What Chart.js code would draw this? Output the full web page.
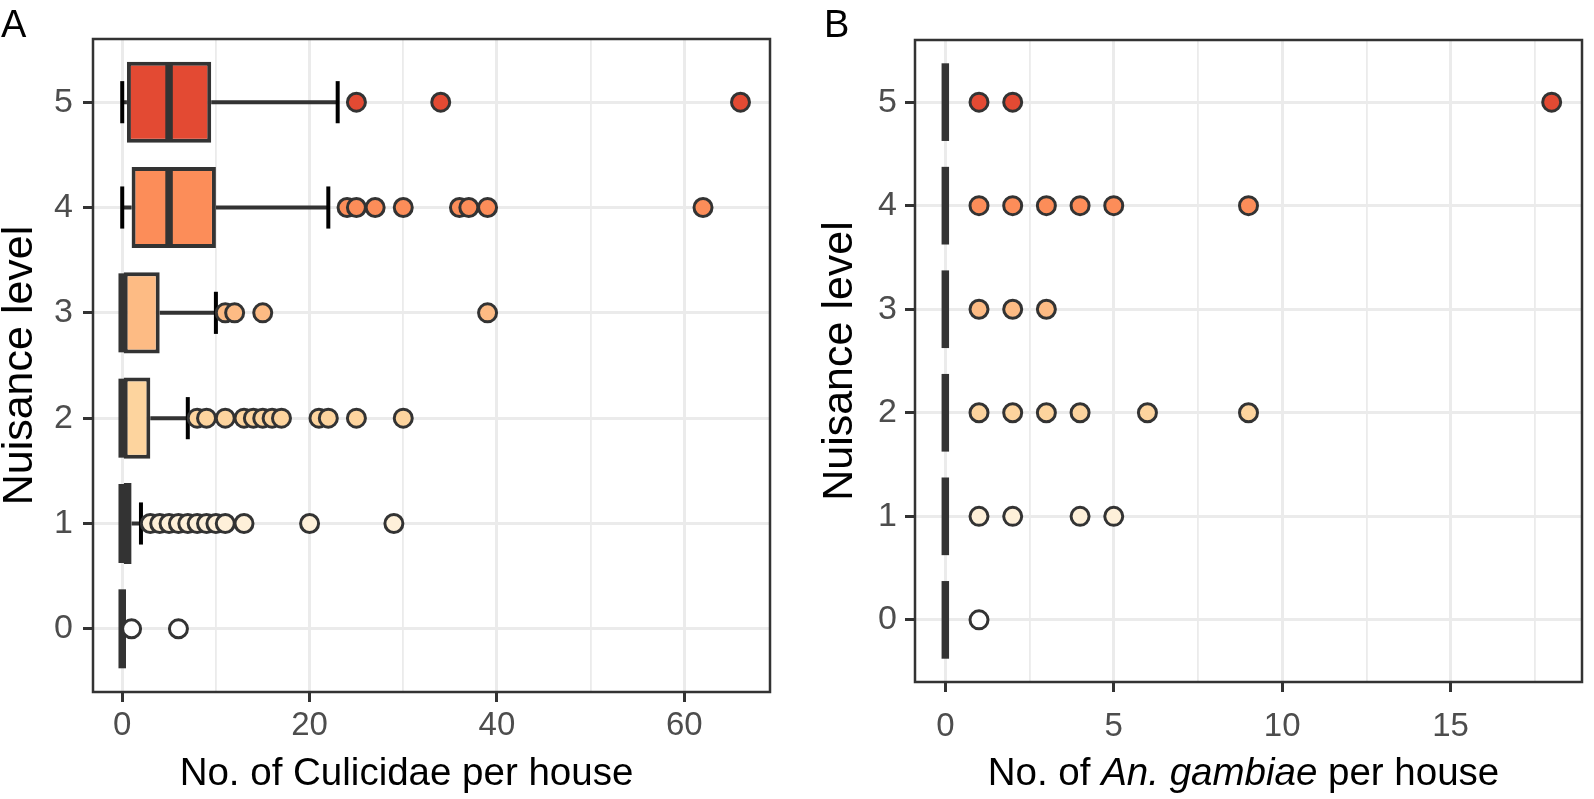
<!DOCTYPE html>
<html lang="en">
<head>
<meta charset="UTF-8">
<title>Nuisance level vs mosquitoes per house</title>
<script src="https://cdn.jsdelivr.net/npm/chart.js"></script>
<style>
    body { margin: 0; background: #ffffff; }
    .wrap { position: relative; width: 1594px; height: 799px; overflow: hidden; background: #fff; }
    canvas { position: absolute; top: 0; }
    #chartA { left: 0; }
    #chartB { left: 800px; }
</style>
</head>
<body>
<div class="wrap">
    <canvas id="chartA" width="800" height="799"></canvas>
    <canvas id="chartB" width="794" height="799"></canvas>
</div>
<script>
const levels = [0, 1, 2, 3, 4, 5];
const levelColors = ['#FFFFFF', '#FEF0D9', '#FDD49E', '#FDBB84', '#FC8D59', '#E34A33'];

// Panel A - Culicidae per house (box stats)
const culLowerWhisker = [0, 0, 0, 0, 0, 0];
const culQ1 = [0, 0, 0, 0, 1, 0.5];
const culMedian = [0, 0, 0, 0, 5, 5];
const culQ3 = [0, 1, 3, 4, 10, 9.5];
const culUpperWhisker = [0, 2, 7, 10, 22, 23];
const culOutliers = [
    [1, 6],
    [3, 4, 5, 6, 7, 8, 9, 10, 11, 13, 20, 29],
    [8, 9, 11, 13, 14, 15, 16, 17, 21, 22, 25, 30],
    [11, 12, 15, 39],
    [24, 25, 27, 30, 36, 37, 39, 62],
    [25, 34, 66]
];
const culTicks = [0, 20, 40, 60];
const culMinorTicks = [10, 30, 50];

// Panel B - An. gambiae per house (every box collapses on 0)
const gamLowerWhisker = [0, 0, 0, 0, 0, 0];
const gamQ1 = [0, 0, 0, 0, 0, 0];
const gamMedian = [0, 0, 0, 0, 0, 0];
const gamQ3 = [0, 0, 0, 0, 0, 0];
const gamUpperWhisker = [0, 0, 0, 0, 0, 0];
const gamOutliers = [
    [1],
    [1, 2, 4, 5],
    [1, 2, 3, 4, 6, 9],
    [1, 2, 3],
    [1, 2, 3, 4, 5, 9],
    [1, 2, 18]
];
const gamTicks = [0, 5, 10, 15];
const gamMinorTicks = [2.5, 7.5, 12.5, 17.5];

const FONT = "'Liberation Sans', Arial, sans-serif";
const INK = '#333333';
const GAP = { x: null, y: null };

// pixel size of one level step on the y scale
const levelPx = (chart) => {
    const y = chart.scales.y;
    if (!y || !y.height) return 0;
    return Math.abs(y.getPixelForValue(1) - y.getPixelForValue(0));
};

const panelDecor = {
    id: 'panelDecor',
    afterDatasetsDraw(chart, args, opts) {
        const { ctx, chartArea: a } = chart;
        ctx.save();
        ctx.strokeStyle = INK;
        ctx.lineWidth = 2.5;
        ctx.strokeRect(a.left, a.top, a.right - a.left, a.bottom - a.top);

        ctx.fillStyle = '#000';
        ctx.textAlign = 'left';
        ctx.textBaseline = 'alphabetic';
        ctx.font = `38px ${FONT}`;
        ctx.fillText(opts.letter, opts.letterX, opts.letterY);

        const fontFor = r => `${r.italic ? 'italic ' : ''}${opts.titleSize}px ${FONT}`;
        const widths = opts.xTitle.map(r => { ctx.font = fontFor(r); return ctx.measureText(r.text).width; });
        const total = widths.reduce((s, w) => s + w, 0);
        let x = (a.left + a.right) / 2 + opts.xTitleShift - total / 2;
        opts.xTitle.forEach((r, i) => {
            ctx.font = fontFor(r);
            ctx.fillText(r.text, x, opts.xTitleBaseline);
            x += widths[i];
        });
        ctx.restore();
    }
};

function buildBoxChart(canvasId, s, cfg) {
    const whiskers = [];
    levels.forEach((lv, i) => {
        whiskers.push({ x: s.lower[i], y: lv }, { x: s.q1[i], y: lv }, GAP,
                      { x: s.q3[i], y: lv }, { x: s.upper[i], y: lv }, GAP);
    });
    const caps = levels.flatMap((lv, i) => [{ x: s.lower[i], y: lv }, { x: s.upper[i], y: lv }]);
    const medians = levels.map((lv, i) => ({ x: s.median[i], y: lv }));
    const boxes = levels.map((lv, i) => ({ y: lv, x: [s.q1[i], s.q3[i]] }));
    const outliers = levels.flatMap((lv, i) => s.outliers[i].map(v => ({ x: v, y: lv })));
    const outlierColors = levels.flatMap((lv, i) => s.outliers[i].map(() => levelColors[i]));

    return new Chart(document.getElementById(canvasId), {
        type: 'scatter',
        data: {
            datasets: [
                {
                    label: 'outliers',
                    type: 'scatter',
                    data: outliers,
                    pointRadius: 9,
                    pointBorderWidth: 3,
                    pointBorderColor: INK,
                    pointBackgroundColor: outlierColors,
                    order: 0
                },
                {
                    label: 'median',
                    type: 'scatter',
                    data: medians,
                    pointStyle: 'line',
                    pointRotation: 90,
                    pointRadius: ctx => levelPx(ctx.chart) * 0.375,
                    pointBorderWidth: 7.5,
                    pointBorderColor: INK,
                    order: 1
                },
                {
                    label: 'box',
                    type: 'bar',
                    indexAxis: 'y',
                    data: boxes,
                    backgroundColor: levelColors,
                    borderColor: INK,
                    borderWidth: 4,
                    borderSkipped: false,
                    barPercentage: 0.77,
                    categoryPercentage: 1,
                    order: 2
                },
                {
                    label: 'caps',
                    type: 'scatter',
                    data: caps,
                    pointStyle: 'line',
                    pointRotation: 90,
                    pointRadius: ctx => levelPx(ctx.chart) * 0.2,
                    pointBorderWidth: 4,
                    pointBorderColor: '#000000',
                    order: 3
                },
                {
                    label: 'whiskers',
                    type: 'line',
                    data: whiskers,
                    borderColor: INK,
                    borderWidth: 4,
                    pointRadius: 0,
                    spanGaps: false,
                    fill: false,
                    order: 4
                }
            ]
        },
        options: {
            responsive: false,
            animation: false,
            events: [],
            layout: { padding: cfg.padding },
            plugins: {
                legend: { display: false },
                tooltip: { enabled: false },
                panelDecor: cfg.decor
            },
            scales: {
                x: {
                    type: 'linear',
                    min: cfg.xMin,
                    max: cfg.xMax,
                    offset: false,
                    afterBuildTicks: sc => {
                        sc.ticks = cfg.ticks.map(v => ({ value: v, major: true }))
                            .concat(cfg.minorTicks.map(v => ({ value: v, major: false })))
                            .sort((p, q) => p.value - q.value);
                    },
                    afterFit: sc => { sc.height = cfg.xAxisHeight; },
                    grid: {
                        offset: false,
                        color: '#EBEBEB',
                        lineWidth: ctx => (ctx.tick && ctx.tick.major ? 3 : 1.8),
                        tickColor: ctx => (ctx.tick && ctx.tick.major ? INK : 'rgba(0,0,0,0)'),
                        tickWidth: 3,
                        tickLength: 10
                    },
                    border: { display: false },
                    ticks: {
                        autoSkip: false,
                        maxRotation: 0,
                        padding: cfg.xTickPadding,
                        color: '#4D4D4D',
                        font: { family: FONT, size: 33 },
                        callback: (v, i, t) => (t[i] && t[i].major ? String(v) : '')
                    }
                },
                y: {
                    type: 'linear',
                    min: -0.6,
                    max: 5.6,
                    offset: false,
                    afterBuildTicks: sc => { sc.ticks = levels.map(v => ({ value: v, major: true })); },
                    afterFit: sc => { sc.width = cfg.yAxisWidth; },
                    grid: {
                        offset: false,
                        color: '#EBEBEB',
                        lineWidth: 3,
                        tickColor: INK,
                        tickWidth: 3,
                        tickLength: 10
                    },
                    border: { display: false },
                    ticks: {
                        padding: cfg.yTickPadding,
                        color: '#4D4D4D',
                        font: { family: FONT, size: 34 },
                        callback: v => String(v)
                    },
                    title: {
                        display: true,
                        text: 'Nuisance level',
                        color: '#000000',
                        font: { family: FONT, size: 43, lineHeight: 0.95 },
                        padding: { top: cfg.yTitlePad, bottom: 0 }
                    }
                }
            }
        },
        plugins: [panelDecor]
    });
}

buildBoxChart('chartA', {
    lower: culLowerWhisker, q1: culQ1, median: culMedian, q3: culQ3,
    upper: culUpperWhisker, outliers: culOutliers
}, {
    xMin: -3.12, xMax: 69.15,
    ticks: culTicks, minorTicks: culMinorTicks,
    padding: { left: 0, top: 39, right: 30, bottom: 0 },
    yAxisWidth: 93, xAxisHeight: 107,
    xTickPadding: 4, yTickPadding: 10, yTitlePad: 0,
    decor: {
        letter: 'A', letterX: 1, letterY: 37, titleSize: 38.5,
        xTitle: [{ text: 'No. of Culicidae per house' }],
        xTitleShift: -25, xTitleBaseline: 785
    }
});

buildBoxChart('chartB', {
    lower: gamLowerWhisker, q1: gamQ1, median: gamMedian, q3: gamQ3,
    upper: gamUpperWhisker, outliers: gamOutliers
}, {
    xMin: -0.9, xMax: 18.9,
    ticks: gamTicks, minorTicks: gamMinorTicks,
    padding: { left: 0, top: 40, right: 1, bottom: 0 },
    yAxisWidth: 115, xAxisHeight: 117,
    xTickPadding: 15, yTickPadding: 8, yTitlePad: 20,
    decor: {
        letter: 'B', letterX: 24, letterY: 37, titleSize: 38.5,
        xTitle: [{ text: 'No. of ' }, { text: 'An. gambiae', italic: true }, { text: ' per house' }],
        xTitleShift: -5, xTitleBaseline: 785
    }
});
</script>
</body>
</html>
